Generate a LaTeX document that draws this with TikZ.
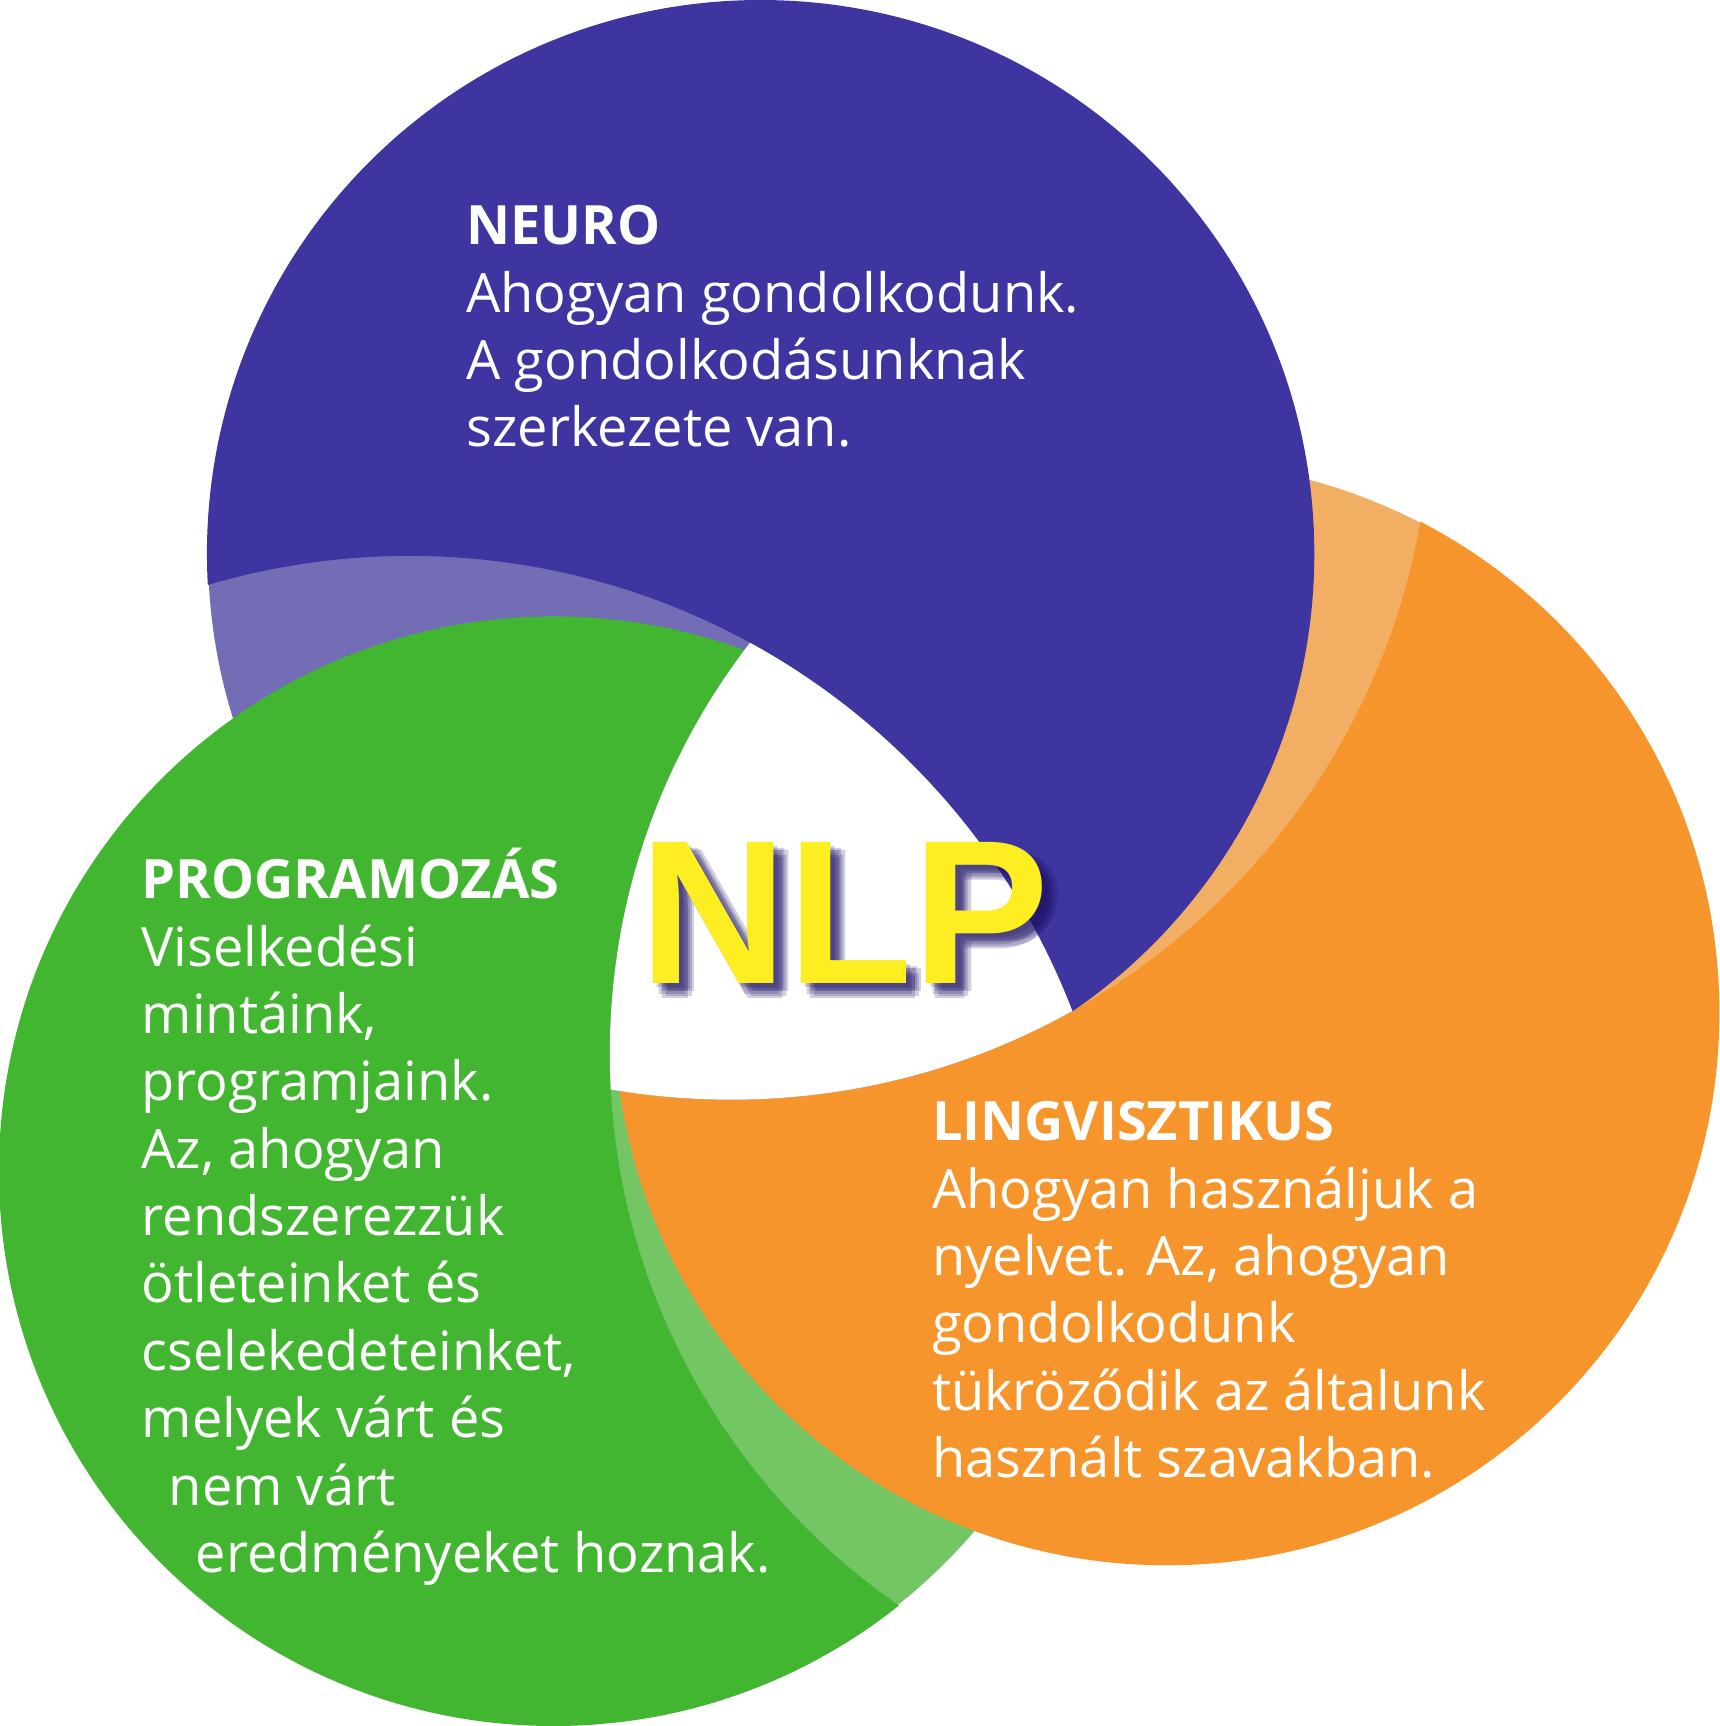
\documentclass[tikz,border=0pt]{standalone}
\usepackage{fontspec}
\setmainfont{Open Sans}
\newfontfamily\nlpfont{Liberation Sans}
\definecolor{dpur}{RGB}{62,53,160}
\definecolor{lpur}{RGB}{115,109,181}
\definecolor{dorg}{RGB}{247,149,45}
\definecolor{lorg}{RGB}{242,174,99}
\definecolor{dgrn}{RGB}{67,182,49}
\definecolor{lgrn}{RGB}{116,198,101}
\definecolor{nlpy}{RGB}{252,238,33}
\definecolor{shad}{RGB}{30,20,100}
\tikzset{
  txt/.style={text=white,anchor=north west,inner sep=0pt,align=left,font=\fontsize{14}{17.4}\selectfont},
  nlpstyle/.style={font=\nlpfont\bfseries\fontsize{53}{53}\selectfont,anchor=base west,inner sep=0pt},
}
\begin{document}
\begin{tikzpicture}[x=0.01cm,y=-0.01cm]
\useasboundingbox (0,0) rectangle (1562,1568);
% light base circles
\fill[lgrn] (503,1064) circle (503);
\fill[lorg] (1060,920) circle (501);
\fill[lpur] (691,503) circle (502);
% dark parts
\begin{scope}\clip (503,1064) circle (504);
\fill[dgrn,even odd rule] (503,1064) circle (506) (1164,957) circle (610);\end{scope}
\begin{scope}\clip (1060,920) circle (502);
\fill[dorg,even odd rule] (1060,920) circle (504) (664,363) circle (636);\end{scope}
\begin{scope}\clip (691,503) circle (503);
\fill[dpur,even odd rule] (691,503) circle (505) (372,1150) circle (645);\end{scope}
% white centre
\begin{scope}\clip (372,1150) circle (645);\clip (664,363) circle (636);
\fill[white] (1164,957) circle (610);\end{scope}
% texts
\node[txt] (neuro) at (423,186) {\textbf{NEURO}\\Ahogyan gondolkodunk.\\A gondolkodásunknak\\szerkezete van.};
\node[txt] (prog) at (128,770) {\textbf{PROGRAMOZÁS}\\Viselkedési\\mintáink,\\programjaink.\\Az, ahogyan\\rendszerezzük\\ötleteinket és\\cselekedeteinket,\\melyek várt és\\\hspace*{7pt}nem várt\\\hspace*{14pt}eredményeket hoznak.};
\node[txt] (ling) at (846,1000) {\textbf{LINGVISZTIKUS}\\Ahogyan használjuk a\\nyelvet. Az, ahogyan\\gondolkodunk\\tükröződik az általunk\\használt szavakban.};
% NLP shadow
\foreach \dx/\dy in {4/4,8/8,12/12,6/10,10/6,14/8,8/14}{
  \node[nlpstyle,text=shad,opacity=0.2] at (580+\dx,893+\dy) {NLP};}
\node[nlpstyle,text=nlpy] (nlp) at (580,893) {NLP};
\end{tikzpicture}
\end{document}
